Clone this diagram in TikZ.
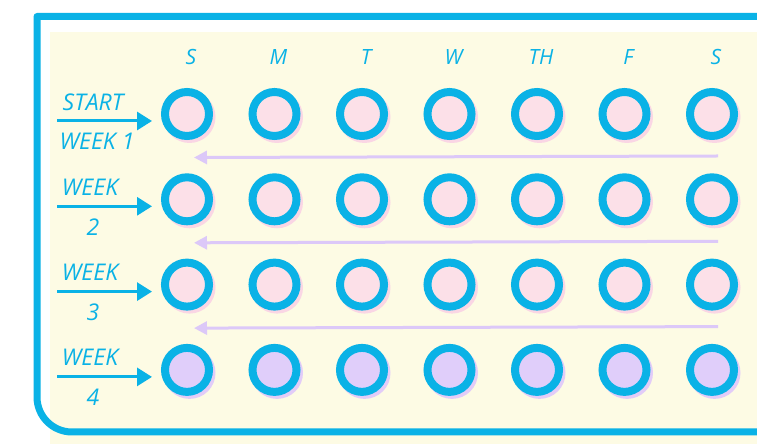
\documentclass[tikz,border=0pt]{standalone}
\usepackage{fontspec}
\setmainfont{Open Sans}
\usetikzlibrary{arrows.meta}
\definecolor{skyblue}{RGB}{10,178,230}
\definecolor{cream}{RGB}{253,251,228}
\definecolor{pinkfill}{RGB}{252,224,232}
\definecolor{pinkshadow}{RGB}{250,214,228}
\definecolor{lavfill}{RGB}{224,206,250}
\definecolor{lavshadow}{RGB}{226,204,248}
\definecolor{lavline}{RGB}{220,200,248}
\begin{document}
\begin{tikzpicture}[x=1pt,y=1pt,
  lbl/.style={text=skyblue,font=\fontsize{23}{23}\selectfont\itshape,inner sep=0pt},
  daylbl/.style={text=skyblue,font=\fontsize{21}{21}\selectfont\itshape,inner sep=0pt},
  pill/.style={circle,minimum size=44pt,inner sep=0pt,draw=skyblue,line width=8pt},
  startarrow/.style={draw=skyblue,line width=3pt,-{Triangle[length=15pt,width=18pt]}},
  backarrow/.style={draw=lavline,line width=3pt,-{Triangle[length=13pt,width=13pt]}}
]
\useasboundingbox (0,0) rectangle (757,444);
\fill[white] (0,0) rectangle (757,444);
% cream paper
\fill[cream] (50,412) -- (757,412) -- (757,0) -- (50,0) -- cycle;
% frame
\draw[skyblue,line width=7pt,line join=round] (762,427.5) -- (37,427.5) -- (37,47)
  arc[start angle=180,end angle=270,radius=35] -- (762,12);
% day labels
\foreach \d [count=\i from 0] in {S,M,T,W,TH,F,S}{
  \node[daylbl] (d\i) at ({191+87.5*\i},387) {\d};
}
% pills
\foreach \j in {0,1,2,3}{
  \foreach \i in {0,...,6}{
    \pgfmathsetmacro{\cx}{187+87.5*\i}
    \pgfmathsetmacro{\cy}{330-85.3*\j}
    \ifnum\j=3
      \fill[lavshadow] (\cx+2.5,\cy-3) circle[radius=26pt];
      \node[pill,fill=lavfill] (c\j\i) at (\cx,\cy) {};
    \else
      \fill[pinkshadow] (\cx+2.5,\cy-3) circle[radius=26pt];
      \node[pill,fill=pinkfill] (c\j\i) at (\cx,\cy) {};
    \fi
  }
}
% left labels and arrows
\node[lbl] (top0) at (93,342) {START};
\node[lbl] (bot0) at (97,303) {WEEK 1};
\node[lbl] (top1) at (90,257) {WEEK};
\node[lbl] (bot1) at (93,217) {2};
\node[lbl] (top2) at (90,172) {WEEK};
\node[lbl] (bot2) at (93,132) {3};
\node[lbl] (top3) at (90,87) {WEEK};
\node[lbl] (bot3) at (93,47) {4};
\foreach \j in {0,1,2,3}{
  \pgfmathsetmacro{\ay}{330-85.3*\j-7}
  \coordinate (s\j) at (57,\ay);
  \coordinate (e\j) at (152,\ay);
  \draw[startarrow] (s\j) -- (e\j);
}
% return arrows
\foreach \j in {0,1,2}{
  \pgfmathsetmacro{\ry}{330-85.3*\j-43.5}
  \coordinate (rs\j) at (718,\ry+1.5);
  \coordinate (re\j) at (194,\ry);
  \draw[backarrow] (rs\j) -- (re\j);
}
\end{tikzpicture}
\end{document}
